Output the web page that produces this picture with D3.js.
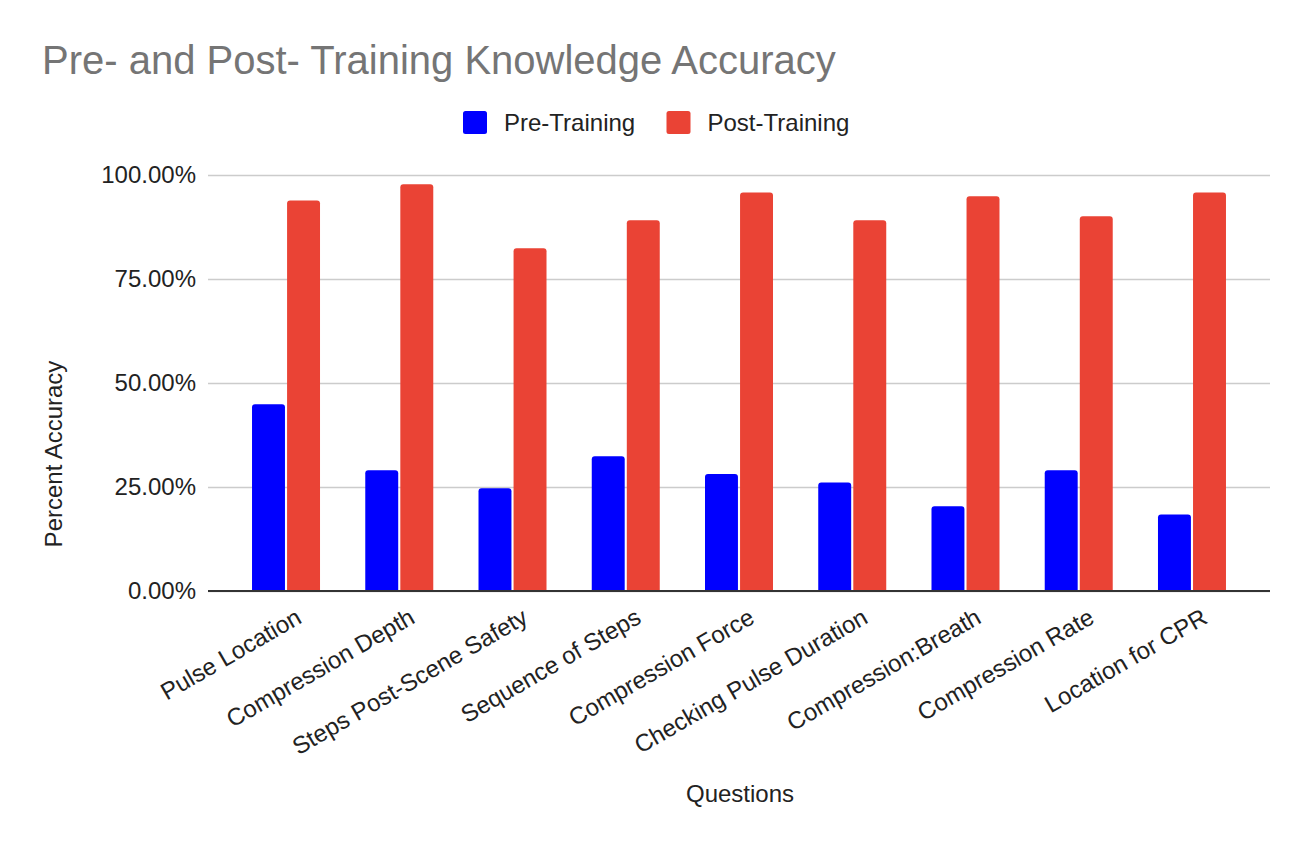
<!DOCTYPE html>
<html>
<head>
<meta charset="utf-8">
<script src="https://cdn.jsdelivr.net/npm/d3@7"></script>
<style>
  body { margin: 0; background: #fff; }
  text { font-family: "Liberation Sans", Arial, sans-serif; }
</style>
</head>
<body>
<div id="chart"></div>
<script>
const questions = ["Pulse Location", "Compression Depth", "Steps Post-Scene Safety",
    "Sequence of Steps", "Compression Force", "Checking Pulse Duration",
    "Compression:Breath", "Compression Rate", "Location for CPR"];
const preTraining = [0.449, 0.290, 0.247, 0.324, 0.281, 0.261, 0.204, 0.290, 0.184];
const postTraining = [0.939, 0.978, 0.824, 0.891, 0.958, 0.891, 0.949, 0.901, 0.958];
const seriesNames = ["Pre-Training", "Post-Training"];
const yTicks = [0, 0.25, 0.5, 0.75, 1];

const colors = ["#0000ff", "#ea4335"];

const width = 1312, height = 850;
const plot = { left: 208, right: 1270, top: 175, bottom: 591 };

const svg = d3.select("#chart")
    .append("svg")
    .attr("width", width)
    .attr("height", height);

const x = d3.scaleBand()
    .domain(questions)
    .range([229.4, 1248.6]);

const xSub = d3.scaleBand()
    .domain(seriesNames)
    .range([x.bandwidth() / 2 - 34, x.bandwidth() / 2 + 34])
    .paddingInner(0.06);

const y = d3.scaleLinear()
    .domain([0, 1])
    .range([plot.bottom, plot.top]);

// title
svg.append("text")
    .attr("x", 42)
    .attr("y", 74)
    .attr("font-size", 40)
    .attr("fill", "#757575")
    .text("Pre- and Post- Training Knowledge Accuracy");

// legend
const legend = svg.append("g").attr("transform", "translate(463,111)");
const legendX = [0, 203.5];
seriesNames.forEach((name, i) => {
    const g = legend.append("g").attr("transform", `translate(${legendX[i]},0)`);
    g.append("rect")
        .attr("x", 0).attr("y", 0)
        .attr("width", 24).attr("height", 23)
        .attr("rx", 2.5)
        .attr("fill", colors[i]);
    g.append("text")
        .attr("x", 41).attr("y", 20)
        .attr("font-size", 24)
        .attr("fill", "#222")
        .text(name);
});

// gridlines + y axis labels
const yAxis = svg.append("g")
    .attr("transform", `translate(${plot.left},0)`)
    .call(d3.axisLeft(y)
        .tickValues(yTicks)
        .tickSize(-(plot.right - plot.left))
        .tickPadding(12)
        .tickFormat(d => (d * 100).toFixed(2) + "%"));
yAxis.select(".domain").remove();
yAxis.selectAll(".tick line")
    .attr("stroke", "#cccccc")
    .attr("stroke-width", 1.3);
yAxis.selectAll(".tick text")
    .attr("font-size", 24)
    .attr("fill", "#222")
    .style("font-family", "'Liberation Sans', Arial, sans-serif");

svg.append("text")
    .attr("transform", "translate(62,454) rotate(-90)")
    .attr("text-anchor", "middle")
    .attr("font-size", 24)
    .attr("fill", "#222")
    .text("Percent Accuracy");

// bars
function topRounded(x0, y0, w, h, r) {
    r = Math.min(r, h);
    return `M${x0},${y0 + h}V${y0 + r}Q${x0},${y0} ${x0 + r},${y0}` +
        `H${x0 + w - r}Q${x0 + w},${y0} ${x0 + w},${y0 + r}V${y0 + h}Z`;
}

const rows = questions.map((q, i) => ({
    q: q,
    vals: [
        { name: seriesNames[0], v: preTraining[i] },
        { name: seriesNames[1], v: postTraining[i] }
    ]
}));

const groups = svg.selectAll(".group")
    .data(rows)
    .enter()
    .append("g")
    .attr("class", "group")
    .attr("transform", d => `translate(${x(d.q)},0)`);

groups.selectAll("path")
    .data(d => d.vals)
    .enter()
    .append("path")
    .attr("fill", (d, i) => colors[i])
    .attr("d", d => topRounded(xSub(d.name), y(d.v), xSub.bandwidth(), y(0) - y(d.v), 3));

// baseline
svg.append("line")
    .attr("x1", plot.left).attr("x2", plot.right)
    .attr("y1", plot.bottom).attr("y2", plot.bottom)
    .attr("stroke", "#333")
    .attr("stroke-width", 2);

// x labels
const xAxis = svg.append("g")
    .attr("transform", `translate(0,${plot.bottom})`)
    .call(d3.axisBottom(x).tickSize(0).tickPadding(0));
xAxis.select(".domain").remove();
xAxis.selectAll(".tick text")
    .attr("font-size", 24)
    .attr("fill", "#222")
    .attr("text-anchor", "end")
    .attr("dy", null)
    .attr("y", 0)
    .attr("transform", "translate(17,31) rotate(-30)")
    .style("font-family", "'Liberation Sans', Arial, sans-serif");

svg.append("text")
    .attr("x", 740)
    .attr("y", 802)
    .attr("text-anchor", "middle")
    .attr("font-size", 24)
    .attr("fill", "#222")
    .text("Questions");
</script>
</body>
</html>
